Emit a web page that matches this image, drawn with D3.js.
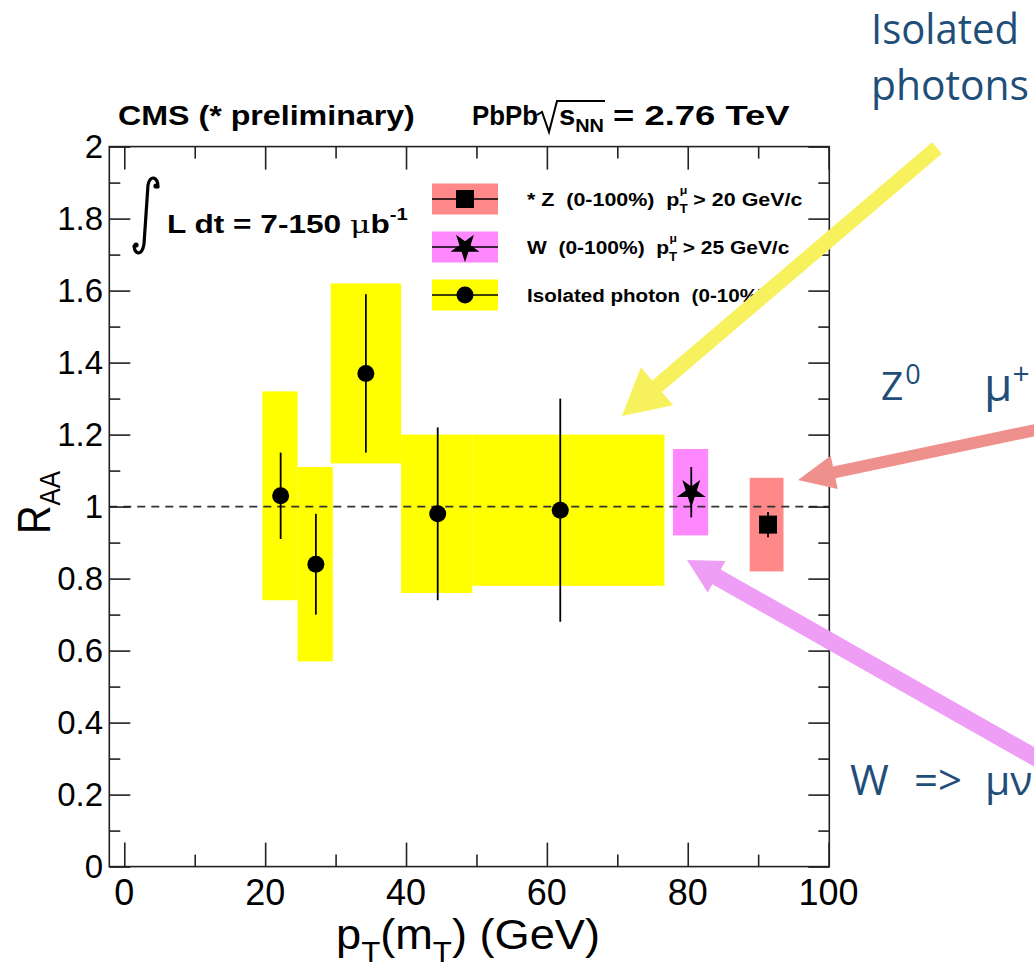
<!DOCTYPE html>
<html><head><meta charset="utf-8">
<script src="https://cdn.jsdelivr.net/npm/d3@7"></script>
<style>body{margin:0;background:#fff}svg{display:block}text{white-space:pre}</style>
</head><body><svg id="c" width="1034" height="972"></svg>
<script>
// ---------- data ----------
const photonPt    = [22.2, 27.2, 34.3, 44.5, 61.9];
const photonRaa   = [1.03, 0.84, 1.37, 0.98, 0.99];
const photonStat  = [0.12, 0.14, 0.22, 0.24, 0.31];
const photonSysXLo= [19.6, 24.6, 29.3, 39.3, 49.4];
const photonSysXHi= [24.6, 29.6, 39.3, 49.4, 76.7];
const photonSysLo = [0.74, 0.57, 1.12, 0.76, 0.78];
const photonSysHi = [1.32, 1.11, 1.62, 1.20, 1.20];

const wPt = [80.5], wRaa = [1.04], wStat = [0.07];
const wSysXLo = [77.9], wSysXHi = [82.9], wSysLo = [0.92], wSysHi = [1.16];

const zPt = [91.4], zRaa = [0.95], zStat = [0.035];
const zSysXLo = [88.8], zSysXHi = [93.6], zSysLo = [0.82], zSysHi = [1.08];

const xMajorTicks = [0, 20, 40, 60, 80, 100];
const xMinorTicks = [10, 30, 50, 70, 90];
const xTickLabels = ["0", "20", "40", "60", "80", "100"];
const yMajorTicks = [0, 0.2, 0.4, 0.6, 0.8, 1.0, 1.2, 1.4, 1.6, 1.8, 2.0];
const yMinorTicks = [0.1, 0.3, 0.5, 0.7, 0.9, 1.1, 1.3, 1.5, 1.7, 1.9];
const yTickLabels = ["0", "0.2", "0.4", "0.6", "0.8", "1", "1.2", "1.4", "1.6", "1.8", "2"];

const legendLabels = ["* Z  (0-100%)  p", "W  (0-100%)  p", "Isolated photon  (0-10%)"];
const legendCuts = [" > 20 GeV/c", " > 25 GeV/c", ""];

// ---------- setup ----------
const svg = d3.select("#c");
const L = 109.3, R = 829.3, T = 146.6, B = 866.6;
const x = d3.scaleLinear().domain([-2.13, 100.1]).range([L, R]);
const y = d3.scaleLinear().domain([0, 2]).range([B, T]);
const ROOTF = "'Liberation Sans', Arial, Helvetica, sans-serif";
const ANNF = "'Open Sans', 'Noto Sans', sans-serif";
const COL_Y = "#ffff00", COL_W = "#ff88ff", COL_Z = "#ff8888";

function fit(sel, tx, ty, w, rot) {
  const bb = sel.node().getBBox();
  const s = w / bb.width;
  sel.attr("transform", `translate(${tx},${ty})` + (rot ? ` rotate(${rot})` : "") + ` scale(${s},1)`);
}

// ---------- systematic boxes ----------
const gBox = svg.append("g");
function boxes(xlo, xhi, lo, hi, col) {
  gBox.selectAll(null).data(xlo.map((d, i) => i)).enter().append("rect")
    .attr("x", i => x(xlo[i])).attr("width", i => x(xhi[i]) - x(xlo[i]))
    .attr("y", i => y(hi[i])).attr("height", i => y(lo[i]) - y(hi[i]))
    .attr("fill", col);
}
boxes(photonSysXLo, photonSysXHi, photonSysLo, photonSysHi, COL_Y);
boxes(wSysXLo, wSysXHi, wSysLo, wSysHi, COL_W);
boxes(zSysXLo, zSysXHi, zSysLo, zSysHi, COL_Z);

// dashed unity line
svg.append("line").attr("x1", L).attr("x2", R).attr("y1", y(1)).attr("y2", y(1))
  .attr("stroke", "#333").attr("stroke-width", 1.6).attr("stroke-dasharray", "8,6");

// ---------- error bars & markers ----------
const gPts = svg.append("g");
function errs(px, py, pe) {
  gPts.selectAll(null).data(px.map((d, i) => i)).enter().append("line")
    .attr("x1", i => x(px[i])).attr("x2", i => x(px[i]))
    .attr("y1", i => y(py[i] + pe[i])).attr("y2", i => y(py[i] - pe[i]))
    .attr("stroke", "#000").attr("stroke-width", 1.8);
}
errs(photonPt, photonRaa, photonStat);
errs(wPt, wRaa, wStat);
errs(zPt, zRaa, zStat);

gPts.selectAll(null).data(photonPt.map((d, i) => i)).enter().append("circle")
  .attr("cx", i => x(photonPt[i])).attr("cy", i => y(photonRaa[i])).attr("r", 8.5).attr("fill", "#000");
gPts.selectAll(null).data(wPt.map((d, i) => i)).enter().append("path")
  .attr("d", d3.symbol(d3.symbolStar, 260)())
  .attr("transform", i => `translate(${x(wPt[i])},${y(wRaa[i])}) rotate(180)`).attr("fill", "#000");
gPts.selectAll(null).data(zPt.map((d, i) => i)).enter().append("rect")
  .attr("x", i => x(zPt[i]) - 9).attr("y", i => y(zRaa[i]) - 9).attr("width", 18).attr("height", 18).attr("fill", "#000");

// ---------- frame and axes ----------
svg.append("rect").attr("x", L).attr("y", T).attr("width", R - L).attr("height", B - T)
  .attr("fill", "none").attr("stroke", "#222").attr("stroke-width", 1.6);

function tickAxis(axisFn, scale, vals, size, tx, ty) {
  const g = svg.append("g").attr("transform", `translate(${tx},${ty})`)
    .call(axisFn(scale).tickValues(vals).tickSize(size).tickFormat(""));
  g.select(".domain").remove();
  g.selectAll("line").attr("stroke", "#222").attr("stroke-width", 1.6);
}
tickAxis(d3.axisTop, x, xMajorTicks, 24, 0, B);
tickAxis(d3.axisTop, x, xMinorTicks, 12, 0, B);
tickAxis(d3.axisBottom, x, xMajorTicks, 23, 0, T);
tickAxis(d3.axisBottom, x, xMinorTicks, 12, 0, T);
tickAxis(d3.axisRight, y, yMajorTicks, 21, L, 0);
tickAxis(d3.axisRight, y, yMinorTicks, 11, L, 0);
tickAxis(d3.axisLeft, y, yMajorTicks, 21, R, 0);
tickAxis(d3.axisLeft, y, yMinorTicks, 11, R, 0);

// tick labels
svg.append("g").selectAll("text").data(xMajorTicks).enter().append("text")
  .attr("x", d => x(d)).attr("y", 905).attr("text-anchor", "middle")
  .attr("font-family", ROOTF).attr("font-size", 36).attr("fill", "#000")
  .text((d, i) => xTickLabels[i]);
svg.append("g").selectAll("text").data(yMajorTicks).enter().append("text")
  .attr("x", 103).attr("y", d => y(d) + 11.5).attr("text-anchor", "end")
  .attr("font-family", ROOTF).attr("font-size", 33).attr("fill", "#000")
  .text((d, i) => yTickLabels[i]);

// axis titles
const xt = svg.append("text").attr("font-family", ROOTF).attr("font-size", 42).attr("fill", "#000");
xt.append("tspan").text("p");
xt.append("tspan").attr("font-size", 29).attr("dy", 13).text("T");
xt.append("tspan").attr("dy", -13).text("(m");
xt.append("tspan").attr("font-size", 29).attr("dy", 13).text("T");
xt.append("tspan").attr("dy", -13).text(") (GeV)");
fit(xt, 336, 949, 264);

const yt = svg.append("text").attr("font-family", ROOTF).attr("font-size", 46).attr("fill", "#000");
yt.append("tspan").text("R");
yt.append("tspan").attr("font-size", 30).attr("dy", 10).text("AA");
fit(yt, 50, 534, 63, -90);

// ---------- header texts ----------
const t1 = svg.append("text").attr("font-family", ROOTF).attr("font-weight", "bold").attr("font-size", 28)
  .text("CMS (* preliminary)");
fit(t1, 118, 125, 297);

const t2 = svg.append("text").attr("font-family", ROOTF).attr("font-weight", "bold").attr("font-size", 28).text("PbPb");
fit(t2, 472, 125, 66);
svg.append("path").attr("d", "M537,115 L542,112 L549,132 L557,101 L605,101")
  .attr("fill", "none").attr("stroke", "#000").attr("stroke-width", 2);
const t3 = svg.append("text").attr("font-family", ROOTF).attr("font-weight", "bold").attr("font-size", 28);
t3.append("tspan").text("s");
t3.append("tspan").attr("font-size", 19).attr("dy", 7).text("NN");
fit(t3, 559, 125, 45);
const t4 = svg.append("text").attr("font-family", ROOTF).attr("font-weight", "bold").attr("font-size", 28)
  .text("= 2.76 TeV");
fit(t4, 613, 125, 177);

// luminosity
svg.append("path").attr("d", "M158,187 C158,177 150,174 148,185 L144,244 C142,256 135,255 134,246")
  .attr("fill", "none").attr("stroke", "#000").attr("stroke-width", 3.2).attr("stroke-linecap", "round");
svg.append("circle").attr("cx", 156).attr("cy", 186).attr("r", 2.6);
svg.append("circle").attr("cx", 136).attr("cy", 245).attr("r", 2.6);
const lt = svg.append("text").attr("font-family", ROOTF).attr("font-weight", "bold").attr("font-size", 25).attr("fill", "#000");
lt.append("tspan").text("L dt = 7-150 ");
lt.append("tspan").attr("font-weight", "normal").attr("font-family", "'DejaVu Serif', serif").text("μ");
lt.append("tspan").text("b");
lt.append("tspan").attr("font-size", 16).attr("dy", -13).text("-1");
fit(lt, 167, 233, 241);

// ---------- legend ----------
const legRows = [
  {cy: 199, col: COL_Z, mk: "sq", w: 276},
  {cy: 247, col: COL_W, mk: "star", w: 263},
  {cy: 295, col: COL_Y, mk: "circ", w: 238}
];
legRows.forEach((r, i) => {
  svg.append("rect").attr("x", 432).attr("y", r.cy - 15.5).attr("width", 66).attr("height", 31).attr("fill", r.col);
  svg.append("line").attr("x1", 432).attr("x2", 498).attr("y1", r.cy).attr("y2", r.cy).attr("stroke", "#000").attr("stroke-width", 1.6);
  if (r.mk === "sq") svg.append("rect").attr("x", 456).attr("y", r.cy - 9).attr("width", 18).attr("height", 18);
  if (r.mk === "star") svg.append("path").attr("d", d3.symbol(d3.symbolStar, 260)()).attr("transform", `translate(465,${r.cy}) rotate(180)`);
  if (r.mk === "circ") svg.append("circle").attr("cx", 465).attr("cy", r.cy).attr("r", 8.5);
  const t = svg.append("text").attr("font-family", ROOTF).attr("font-weight", "bold").attr("font-size", 19).attr("fill", "#000");
  t.append("tspan").text(legendLabels[i]);
  if (legendCuts[i]) {
    t.append("tspan").attr("font-size", 12).attr("dy", 7).text("T");
    t.append("tspan").attr("font-size", 11).attr("dx", -7).attr("dy", -19).text("μ");
    t.append("tspan").attr("dy", 12).text(legendCuts[i]);
  }
  fit(t, 527, r.cy + 7, r.w);
});

// ---------- annotations ----------
function arrow(x0, y0, x1, y1, lw, hl, hw, col) {
  const dx = x1 - x0, dy = y1 - y0, len = Math.hypot(dx, dy);
  const ux = dx / len, uy = dy / len, nx = -uy, ny = ux;
  const bx = x1 - ux * hl, by = y1 - uy * hl;
  const pts = [
    [x0 + nx * lw / 2, y0 + ny * lw / 2], [bx + nx * lw / 2, by + ny * lw / 2],
    [bx + nx * hw, by + ny * hw], [x1, y1], [bx - nx * hw, by - ny * hw],
    [bx - nx * lw / 2, by - ny * lw / 2], [x0 - nx * lw / 2, y0 - ny * lw / 2]
  ];
  svg.append("path").attr("d", d3.line()(pts) + "Z").attr("fill", col);
}
arrow(937, 148, 622, 416, 15, 46, 25, "#f7f15e");
arrow(1045, 428, 798, 480, 12, 37, 17, "#ee918d");
arrow(1045, 763, 687, 560, 17, 34, 18, "#ee9ef5");

const ANNC = "#1f4e79";
const a1 = svg.append("text").attr("font-family", ANNF).attr("font-size", 42).attr("fill", ANNC).text("Isolated");
fit(a1, 871, 44, 148);
const a2 = svg.append("text").attr("font-family", ANNF).attr("font-size", 42).attr("fill", ANNC).text("photons");
fit(a2, 871, 100, 158);

const z0 = svg.append("text").attr("font-family", ANNF).attr("font-size", 39).attr("fill", ANNC);
z0.append("tspan").attr("x", 881).attr("y", 400).text("Z");
z0.append("tspan").attr("font-size", 27).attr("dx", 2).attr("dy", -16).text("0");
const mu = svg.append("text").attr("font-family", ANNF).attr("font-size", 46).attr("fill", ANNC);
mu.append("tspan").attr("x", 984).attr("y", 401).text("μ");
mu.append("tspan").attr("font-size", 30).attr("dy", -17).text("+");

const wn = svg.append("text").attr("font-family", ANNF).attr("font-size", 42).attr("fill", ANNC).attr("y", 795);
wn.append("tspan").attr("x", 850).text("W");
wn.append("tspan").attr("x", 914).text("=>");
wn.append("tspan").attr("x", 985).attr("font-size", 41).text("μν");
</script></body></html>
